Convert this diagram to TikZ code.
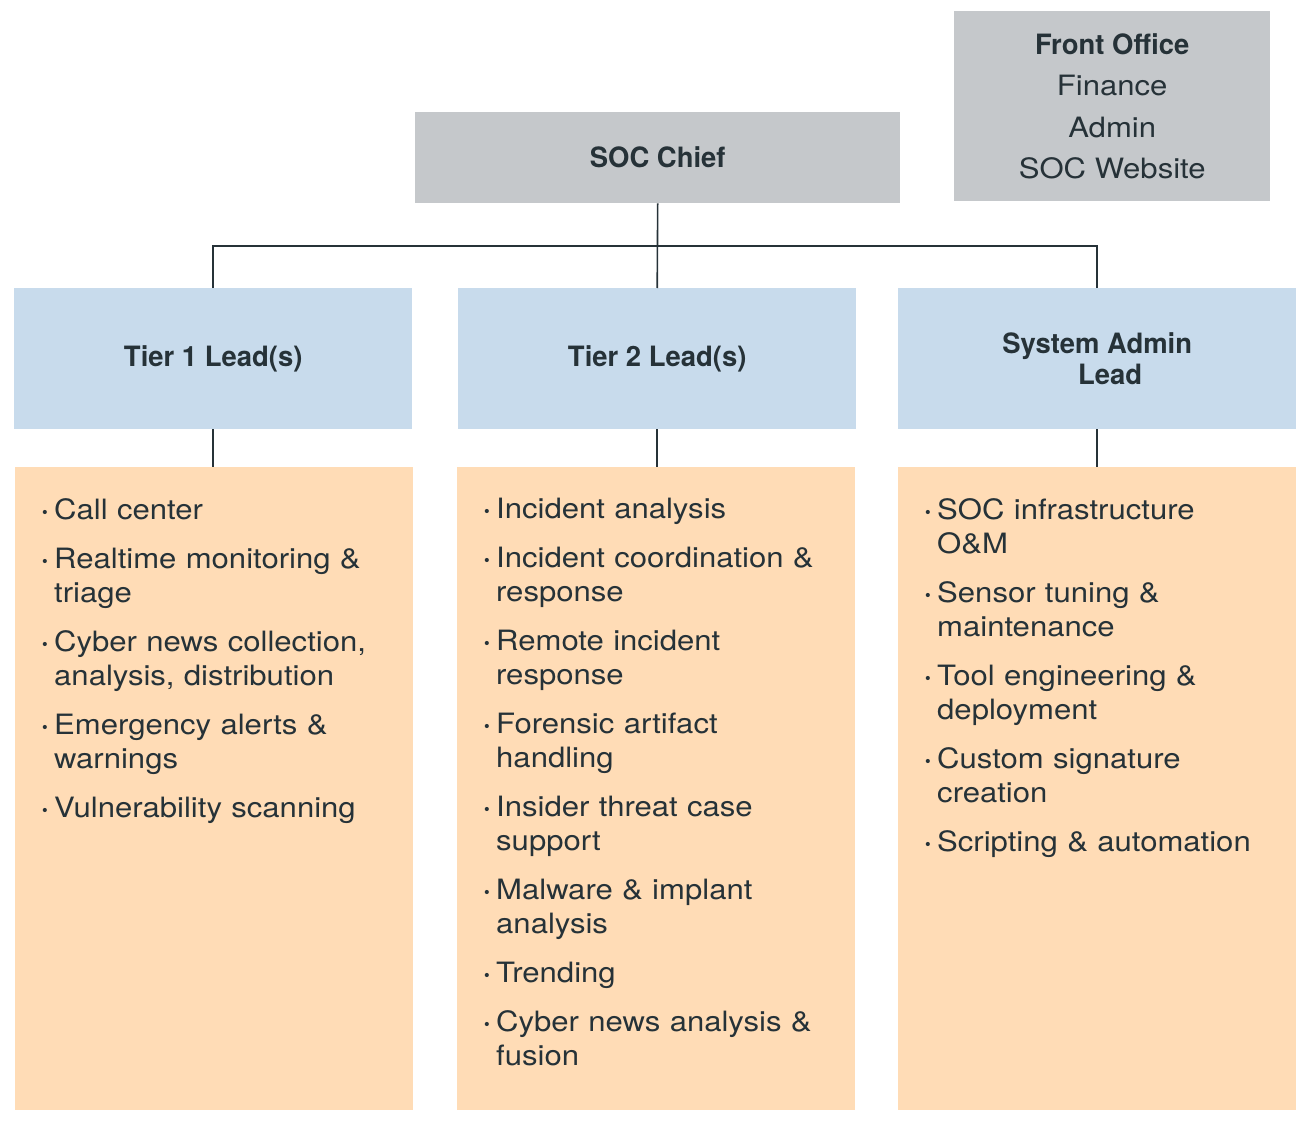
\documentclass[tikz,border=0pt]{standalone}
\usepackage{fontspec}
\setmainfont{TeX Gyre Heros}[FakeStretch=1.11, BoldFeatures={FakeStretch=0.98}]
\usetikzlibrary{positioning}

\definecolor{boxgray}{HTML}{C5C8CB}
\definecolor{leadblue}{HTML}{C8DBEC}
\definecolor{dutyorange}{HTML}{FFDCB6}
\definecolor{inkdark}{HTML}{263238}

\tikzset{
  basebox/.style={inner sep=0pt, anchor=north west, text=inkdark,
    font=\fontsize{28}{34}\selectfont},
  chiefbox/.style={basebox, fill=boxgray, font=\fontsize{28}{34}\selectfont\bfseries},
  leadbox/.style={basebox, fill=leadblue, minimum width=398pt, minimum height=141pt,
    align=center, font=\fontsize{28}{31}\selectfont\bfseries},
  dutybox/.style={basebox, fill=dutyorange, minimum width=398pt, minimum height=643pt},
  dutytext/.style={inner sep=0pt, text=inkdark, text width=365pt, align=left,
    font=\fontsize{28}{34}\selectfont},
  orgline/.style={draw=inkdark, line width=1.6pt}
}

\newcommand{\duty}[1]{\hangindent=13pt\hangafter=1\noindent
  \makebox[13pt][l]{\textbf{\textperiodcentered}}#1\par\vspace{15pt}}

\begin{document}
\begin{tikzpicture}[x=1pt, y=-1pt]
  \useasboundingbox (0,0) rectangle (1312,1126);

  % top row
  \node[chiefbox, minimum width=485pt, minimum height=91pt] (chief) at (415,112) {SOC Chief};
  \node[basebox, fill=boxgray, minimum width=316pt, minimum height=190pt, align=center,
        font=\fontsize{28}{41.5}\selectfont] (office) at (954,11)
        {\textbf{Front Office}\\Finance\\Admin\\SOC Website};

  % leads
  \node[leadbox] (tierone) at (14,288) {Tier 1 Lead(s)};
  \node[leadbox] (tiertwo) at (458,288) {Tier 2 Lead(s)};
  \node[leadbox] (sysadmin) at (898,288) {System Admin\\\hspace*{26pt}Lead};

  % duties
  \node[dutybox] (tieroneduties) at (15,467) {};
  \node[dutybox] (tiertwoduties) at (457,467) {};
  \node[dutybox] (sysadminduties) at (898,467) {};

  \node[dutytext, below right=31pt and 26pt of tieroneduties.north west] (tieronelist) {%
    \duty{Call center}
    \duty{Realtime monitoring \&\newline triage}
    \duty{Cyber news collection,\newline analysis, distribution}
    \duty{Emergency alerts \&\newline warnings}
    \duty{Vulnerability scanning}};
  \node[dutytext, below right=31pt and 26pt of tiertwoduties.north west] (tiertwolist) {%
    \duty{Incident analysis}
    \duty{Incident coordination \&\newline response}
    \duty{Remote incident\newline response}
    \duty{Forensic artifact\newline handling}
    \duty{Insider threat case\newline support}
    \duty{Malware \& implant\newline analysis}
    \duty{Trending}
    \duty{Cyber news analysis \&\newline fusion}};
  \node[dutytext, below right=31pt and 26pt of sysadminduties.north west] (sysadminlist) {%
    \duty{SOC infrastructure\newline O\&M}
    \duty{Sensor tuning \&\newline maintenance}
    \duty{Tool engineering \&\newline deployment}
    \duty{Custom signature\newline creation}
    \duty{Scripting \& automation}};

  % connectors
  \coordinate (bus) at (657,246);
  \draw[orgline] (chief.south) -- (tiertwo.north);
  \draw[orgline] (tierone.north) |- (bus) -| (sysadmin.north);
  \draw[orgline] (tierone.south) -- (tierone.south |- tieroneduties.north);
  \draw[orgline] (tiertwo.south) -- (tiertwo.south |- tiertwoduties.north);
  \draw[orgline] (sysadmin.south) -- (sysadmin.south |- sysadminduties.north);
\end{tikzpicture}
\end{document}
